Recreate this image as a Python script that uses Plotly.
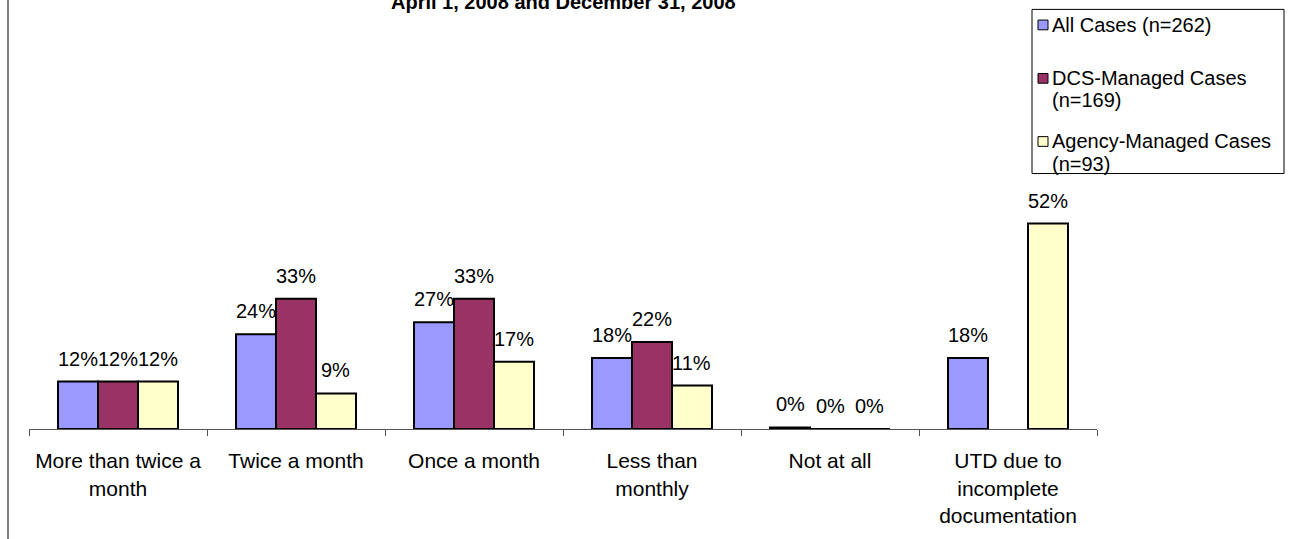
import plotly.graph_objects as go

categories = ["More than twice a<br>month", "Twice a month", "Once a month",
              "Less than<br>monthly", "Not at all",
              "UTD due to<br>incomplete<br>documentation"]
series_names = [["All Cases (n=262)"],
                ["DCS-Managed Cases", "(n=169)"],
                ["Agency-Managed Cases", "(n=93)"]]
all_cases = [12, 24, 27, 18, 0.4, 18]
dcs_managed = [12, 33, 33, 22, 0, None]
agency_managed = [12, 9, 17, 11, 0, 52]
colors = ["#9999FF", "#993366", "#FFFFCC"]
title_text = "April 1, 2008 and December 31, 2008"

FONT = "Arial, 'Liberation Sans', sans-serif"
W, H = 1297, 539
L, R_EDGE, T, B = 29, 1097, 192, 436
BARGAP = 0.326

def xp(px):
    return (px - L) / (R_EDGE - L)

def yp(py):
    return (B - py) / (B - T)

fig = go.Figure()
series = [all_cases, dcs_managed, agency_managed]
for lines, vals, col in zip(series_names, series, colors):
    fig.add_bar(x=categories, y=vals, name=" ".join(lines),
                marker=dict(color=col, line=dict(color="black", width=2)),
                showlegend=False, hoverinfo="skip")

annotations = []
w = (1 - BARGAP) / 3
for j, vals in enumerate(series):
    for i, v in enumerate(vals):
        if v is None:
            continue
        annotations.append(dict(x=i + (j - 1) * w, y=v, xref="x", yref="y",
                                text=f"{round(v)}%", showarrow=False,
                                yanchor="bottom", yshift=10,
                                font=dict(family=FONT, size=20, color="black")))

# title (top portion clipped as in the original)
annotations.append(dict(x=0.5, y=yp(10), xref="paper", yref="paper",
                        text=f"<b>{title_text}</b>", showarrow=False,
                        xanchor="center", yanchor="bottom",
                        font=dict(family=FONT, size=20, color="black")))

shapes = []
# left border line of chart area
shapes.append(dict(type="line", xref="paper", yref="paper",
                   x0=xp(8), x1=xp(8), y0=-1, y1=3,
                   line=dict(color="black", width=1)))
# legend box
shapes.append(dict(type="rect", xref="paper", yref="paper",
                   x0=xp(1032), x1=xp(1284), y0=yp(4), y1=yp(173),
                   line=dict(color="black", width=1), fillcolor="white"))
line_centers = [[20], [75, 97], [140, 163]]
for lines, col, cents in zip(series_names, colors, line_centers):
    c = cents[0]
    shapes.append(dict(type="rect", xref="paper", yref="paper",
                       x0=xp(1038), x1=xp(1048), y0=yp(c + 5), y1=yp(c - 5),
                       line=dict(color="black", width=1), fillcolor=col))
    for txt, cy in zip(lines, cents):
        annotations.append(dict(x=xp(1050), y=yp(cy), xref="paper", yref="paper",
                                text=txt, showarrow=False, xanchor="left",
                                yanchor="middle",
                                font=dict(family=FONT, size=20, color="black")))

fig.update_layout(
    width=W, height=H,
    margin=dict(l=L, r=W - R_EDGE, t=T, b=H - B, pad=0),
    paper_bgcolor="white", plot_bgcolor="white",
    barmode="group", bargap=BARGAP, bargroupgap=0,
    font=dict(family=FONT, size=20, color="black"),
    xaxis=dict(type="category", tickson="boundaries", ticks="outside",
               ticklen=6, tickcolor="#555555", tickwidth=1,
               showline=True, linecolor="#555555", linewidth=1,
               showgrid=False, tickfont=dict(family=FONT, size=21, color="black"),
               ticklabelstandoff=13),
    yaxis=dict(range=[0, 60], visible=False, showgrid=False, zeroline=False),
    annotations=annotations, shapes=shapes,
    showlegend=False,
)

fig.write_html("out.html",
               config={"displayModeBar": False, "staticPlot": True},
               post_script="document.body.style.margin='0';"
                           "document.body.style.padding='0';"
                           "document.documentElement.style.overflow='hidden';")
